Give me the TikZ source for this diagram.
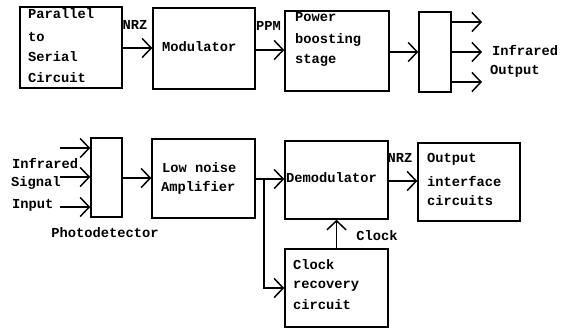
\documentclass[tikz,border=0pt]{standalone}
\usepackage{fontspec}
\setmainfont{Liberation Mono}
\usetikzlibrary{arrows.meta}
\begin{document}
\begin{tikzpicture}[x=1bp,y=-1bp,
  box/.style={draw, line width=1.5bp, inner sep=0pt},
  txt/.style={font=\bfseries\fontsize{13.8}{16}\selectfont, inner sep=0pt, anchor=west},
  lbl/.style={font=\bfseries\fontsize{13.8}{16}\selectfont, inner sep=0pt},
  arr/.style={line width=1.5bp, -{Straight Barb[length=9bp,width=19bp]}},
  ln/.style={line width=1.5bp}]
\useasboundingbox (0,0) rectangle (564,329);
% top row boxes
\node[box, minimum width=102bp, minimum height=81bp] (b1) at (71,47.5) {};
\node[box, minimum width=102bp, minimum height=81bp] (b2) at (204,48.5) {};
\node[box, minimum width=104bp, minimum height=80bp] (b3) at (337,51) {};
\node[box, minimum width=32bp, minimum height=80bp] (b4) at (435,52) {};
% top row texts
\node[txt] (t1a) at (28,14) {Parallel};
\node[txt] (t1b) at (28,37) {to};
\node[txt] (t1c) at (28,57) {Serial};
\node[txt] (t1d) at (28,78) {Circuit};
\node[txt] (t2) at (162,47) {Modulator};
\node[txt] (t3a) at (295,17) {Power};
\node[txt] (t3b) at (295,40) {boosting};
\node[txt] (t3c) at (295,60) {stage};
\node[lbl] (nrz1) at (135,25) {NRZ};
\node[lbl] (ppm) at (268.5,26) {PPM};
\node[txt] (ir1) at (492,50) {Infrared};
\node[txt] (ir2) at (490,71) {Output};
% top row connectors
\draw[arr] (b1.east |- 0,48) -- (b2.west |- 0,48);
\draw[arr] (b2.east |- 0,50) -- (b3.west |- 0,50);
\draw[arr] (b3.east |- 0,52) -- (b4.west |- 0,52);
\coordinate (o1) at (482,22);
\coordinate (o2) at (482,52);
\coordinate (o3) at (482,82);
\draw[arr] (b4.east |- o1) -- (o1);
\draw[arr] (b4.east |- o2) -- (o2);
\draw[arr] (b4.east |- o3) -- (o3);
% bottom row boxes
\node[box, minimum width=31bp, minimum height=79bp] (pd) at (106.5,177.5) {};
\node[box, minimum width=103bp, minimum height=79bp] (lna) at (203.5,178.5) {};
\node[box, minimum width=103bp, minimum height=78bp] (dem) at (336.5,180) {};
\node[box, minimum width=102bp, minimum height=78bp] (out) at (469,182) {};
\node[box, minimum width=103bp, minimum height=78bp] (crc) at (336.5,288) {};
% bottom texts
\node[txt] (in1) at (12,163) {Infrared};
\node[txt] (in2) at (11,183) {Signal};
\node[txt] (in3) at (12,205) {Input};
\node[lbl] (pdl) at (105,233) {Photodetector};
\node[txt] (l1) at (162,168) {Low noise};
\node[txt] (l2) at (161,188) {Amplifier};
\node[txt] (d1) at (286,178) {Demodulator};
\node[txt] (oa) at (427,159) {Output};
\node[txt] (ob) at (427,181) {interface};
\node[txt] (oc) at (427,201) {circuits};
\node[txt] (ca) at (293,265) {Clock};
\node[txt] (cb) at (293,286) {recovery};
\node[txt] (cc) at (293,305) {circuit};
\node[lbl] (nrz2) at (400,158) {NRZ};
\node[lbl] (clk) at (377,236) {Clock};
% bottom connectors
\coordinate (s1) at (60,148);
\coordinate (s2) at (60,177);
\coordinate (s3) at (60,207);
\draw[arr] (s1) -- (pd.west |- s1);
\draw[arr] (s2) -- (pd.west |- s2);
\draw[arr] (s3) -- (pd.west |- s3);
\draw[arr] (pd.east |- 0,178) -- (lna.west |- 0,178);
\draw[arr] (lna.east |- 0,179) -- (dem.west |- 0,179);
\coordinate (br) at (264,179);
\draw[arr] (br) |- (crc.west);
\draw[arr] (dem.east |- 0,181) -- (out.west |- 0,181);
\draw[arr] (crc.north) -- (dem.south);
\end{tikzpicture}
\end{document}
